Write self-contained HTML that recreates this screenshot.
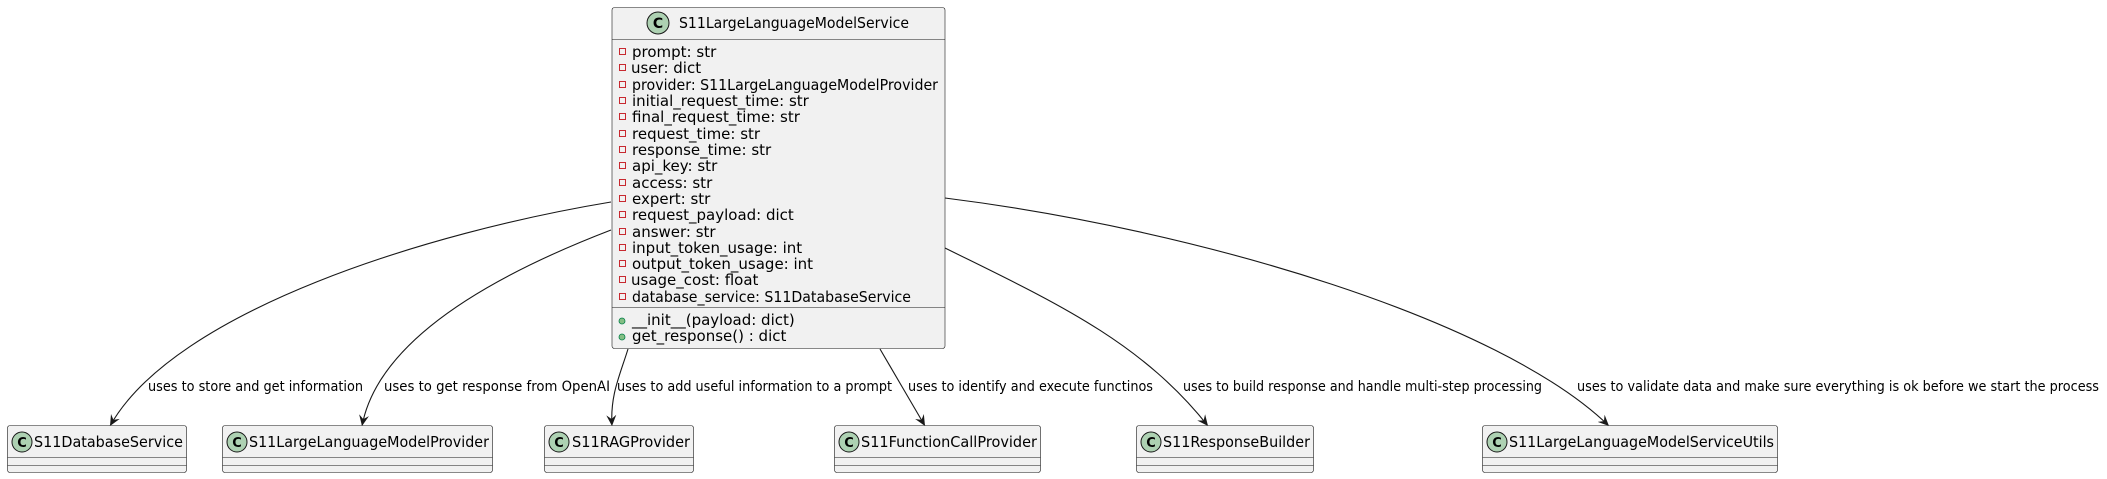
<!DOCTYPE html>
<html><head><meta charset="utf-8"><style>
html,body{margin:0;padding:0;background:#fff;}
svg{display:block;}
text{font-family:"DejaVu Sans","Liberation Sans",sans-serif;fill:#000;}
</style></head><body>
<svg width="2107" height="479" viewBox="0 0 2107 479" xmlns="http://www.w3.org/2000/svg">
<defs>
<marker id="ar" viewBox="0 0 12 12" refX="11" refY="6" markerWidth="12" markerHeight="12" markerUnits="userSpaceOnUse" orient="auto">
<path d="M0,1 L11,6 L0,11 L4,6 Z" fill="#181818"/>
</marker>
</defs>
<g fill="none" stroke="#181818" stroke-width="1.1">
<path d="M611,202 C430,232 175,310 110,426" marker-end="url(#ar)"/>
<path d="M611,230 C520,265 380,330 362,426" marker-end="url(#ar)"/>
<path d="M628,349 C620,375 610,395 612,426" marker-end="url(#ar)"/>
<path d="M880,349 C895,375 910,400 925,426" marker-end="url(#ar)"/>
<path d="M945,248 C1050,300 1140,340 1208,426" marker-end="url(#ar)"/>
<path d="M945,198 C1200,230 1500,320 1609,426" marker-end="url(#ar)"/>
</g>
<g font-size="14">
<text x="148" y="391" textLength="215" lengthAdjust="spacingAndGlyphs">uses to store and get information</text>
<text x="384" y="391" textLength="226" lengthAdjust="spacingAndGlyphs">uses to get response from OpenAI</text>
<text x="617" y="391" textLength="275" lengthAdjust="spacingAndGlyphs">uses to add useful information to a prompt</text>
<text x="908" y="391" textLength="245" lengthAdjust="spacingAndGlyphs">uses to identify and execute functinos</text>
<text x="1183" y="391" textLength="359" lengthAdjust="spacingAndGlyphs">uses to build response and handle multi-step processing</text>
<text x="1577" y="391" textLength="522" lengthAdjust="spacingAndGlyphs">uses to validate data and make sure everything is ok before we start the process</text>
</g>
<rect x="612" y="7.5" width="333" height="341" rx="2.5" fill="#F1F1F1" stroke="#181818" stroke-width="0.6"/>
<line x1="612" y1="39.5" x2="945" y2="39.5" stroke="#181818" stroke-width="0.6"/>
<line x1="612" y1="307.5" x2="945" y2="307.5" stroke="#181818" stroke-width="0.6"/>
<circle cx="658" cy="23" r="11" fill="#ADD1B2" stroke="#181818" stroke-width="1"/>
<text x="658" y="28" font-size="14" font-weight="bold" text-anchor="middle">C</text>
<text x="679" y="28" font-size="15" textLength="230" lengthAdjust="spacingAndGlyphs">S11LargeLanguageModelService</text>
<g fill="none" stroke="#C82930" stroke-width="1">
<rect x="619.5" y="48.5" width="6" height="6"/><rect x="619.5" y="64.5" width="6" height="6"/><rect x="619.5" y="81.5" width="6" height="6"/><rect x="619.5" y="97.5" width="6" height="6"/><rect x="619.5" y="113.5" width="6" height="6"/><rect x="619.5" y="130.5" width="6" height="6"/><rect x="619.5" y="146.5" width="6" height="6"/><rect x="619.5" y="162.5" width="6" height="6"/><rect x="619.5" y="179.5" width="6" height="6"/><rect x="619.5" y="195.5" width="6" height="6"/><rect x="619.5" y="211.5" width="6" height="6"/><rect x="619.5" y="228.5" width="6" height="6"/><rect x="619.5" y="244.5" width="6" height="6"/><rect x="619.5" y="260.5" width="6" height="6"/><rect x="619.5" y="276.5" width="6" height="6"/><rect x="619.5" y="293.5" width="6" height="6"/>
</g>
<g font-size="15">
<text x="632" y="57">prompt: str</text>
<text x="631" y="73">user: dict</text>
<text x="632" y="90" textLength="306" lengthAdjust="spacingAndGlyphs">provider: S11LargeLanguageModelProvider</text>
<text x="632" y="106">initial_request_time: str</text>
<text x="632" y="122">final_request_time: str</text>
<text x="632" y="139">request_time: str</text>
<text x="632" y="155">response_time: str</text>
<text x="632" y="171">api_key: str</text>
<text x="632" y="188">access: str</text>
<text x="632" y="204">expert: str</text>
<text x="632" y="220">request_payload: dict</text>
<text x="632" y="237">answer: str</text>
<text x="632" y="253">input_token_usage: int</text>
<text x="632" y="269">output_token_usage: int</text>
<text x="631" y="285">usage_cost: float</text>
<text x="632" y="302" textLength="279" lengthAdjust="spacingAndGlyphs">database_service: S11DatabaseService</text>
<text x="632" y="325">__init__(payload: dict)</text>
<text x="632" y="341">get_response() : dict</text>
</g>
<circle cx="622" cy="321" r="3" fill="#84BE84" stroke="#038048" stroke-width="0.8"/>
<circle cx="622" cy="337" r="3" fill="#84BE84" stroke="#038048" stroke-width="0.8"/>
<g font-size="15">
<g>
<rect x="7.5" y="425.5" width="179" height="47" rx="2.5" fill="#F1F1F1" stroke="#181818" stroke-width="0.6"/>
<line x1="7.5" y1="457.5" x2="186.5" y2="457.5" stroke="#181818" stroke-width="0.6"/><line x1="7.5" y1="465.5" x2="186.5" y2="465.5" stroke="#181818" stroke-width="0.6"/>
<circle cx="22" cy="442" r="10" fill="#ADD1B2" stroke="#181818"/><text x="22" y="447" font-weight="bold" text-anchor="middle" font-size="13">C</text>
<text x="34" y="447" textLength="149" lengthAdjust="spacingAndGlyphs">S11DatabaseService</text>
</g>
<g>
<rect x="222.5" y="425.5" width="270" height="47" rx="2.5" fill="#F1F1F1" stroke="#181818" stroke-width="0.6"/>
<line x1="222.5" y1="457.5" x2="492.5" y2="457.5" stroke="#181818" stroke-width="0.6"/><line x1="222.5" y1="465.5" x2="492.5" y2="465.5" stroke="#181818" stroke-width="0.6"/>
<circle cx="237" cy="442" r="10" fill="#ADD1B2" stroke="#181818"/><text x="237" y="447" font-weight="bold" text-anchor="middle" font-size="13">C</text>
<text x="249" y="447" textLength="240" lengthAdjust="spacingAndGlyphs">S11LargeLanguageModelProvider</text>
</g>
<g>
<rect x="544.5" y="425.5" width="149" height="47" rx="2.5" fill="#F1F1F1" stroke="#181818" stroke-width="0.6"/>
<line x1="544.5" y1="457.5" x2="693.5" y2="457.5" stroke="#181818" stroke-width="0.6"/><line x1="544.5" y1="465.5" x2="693.5" y2="465.5" stroke="#181818" stroke-width="0.6"/>
<circle cx="559" cy="442" r="10" fill="#ADD1B2" stroke="#181818"/><text x="559" y="447" font-weight="bold" text-anchor="middle" font-size="13">C</text>
<text x="572" y="447" textLength="118" lengthAdjust="spacingAndGlyphs">S11RAGProvider</text>
</g>
<g>
<rect x="834.5" y="425.5" width="206" height="47" rx="2.5" fill="#F1F1F1" stroke="#181818" stroke-width="0.6"/>
<line x1="834.5" y1="457.5" x2="1040.5" y2="457.5" stroke="#181818" stroke-width="0.6"/><line x1="834.5" y1="465.5" x2="1040.5" y2="465.5" stroke="#181818" stroke-width="0.6"/>
<circle cx="849" cy="442" r="10" fill="#ADD1B2" stroke="#181818"/><text x="849" y="447" font-weight="bold" text-anchor="middle" font-size="13">C</text>
<text x="861" y="447" textLength="176" lengthAdjust="spacingAndGlyphs">S11FunctionCallProvider</text>
</g>
<g>
<rect x="1136.5" y="425.5" width="177" height="47" rx="2.5" fill="#F1F1F1" stroke="#181818" stroke-width="0.6"/>
<line x1="1136.5" y1="457.5" x2="1313.5" y2="457.5" stroke="#181818" stroke-width="0.6"/><line x1="1136.5" y1="465.5" x2="1313.5" y2="465.5" stroke="#181818" stroke-width="0.6"/>
<circle cx="1151" cy="442" r="10" fill="#ADD1B2" stroke="#181818"/><text x="1151" y="447" font-weight="bold" text-anchor="middle" font-size="13">C</text>
<text x="1163" y="447" textLength="147" lengthAdjust="spacingAndGlyphs">S11ResponseBuilder</text>
</g>
<g>
<rect x="1482.5" y="425.5" width="295" height="47" rx="2.5" fill="#F1F1F1" stroke="#181818" stroke-width="0.6"/>
<line x1="1482.5" y1="457.5" x2="1777.5" y2="457.5" stroke="#181818" stroke-width="0.6"/><line x1="1482.5" y1="465.5" x2="1777.5" y2="465.5" stroke="#181818" stroke-width="0.6"/>
<circle cx="1497" cy="442" r="10" fill="#ADD1B2" stroke="#181818"/><text x="1497" y="447" font-weight="bold" text-anchor="middle" font-size="13">C</text>
<text x="1509" y="447" textLength="265" lengthAdjust="spacingAndGlyphs">S11LargeLanguageModelServiceUtils</text>
</g>
</g>
</svg>
</body></html>
